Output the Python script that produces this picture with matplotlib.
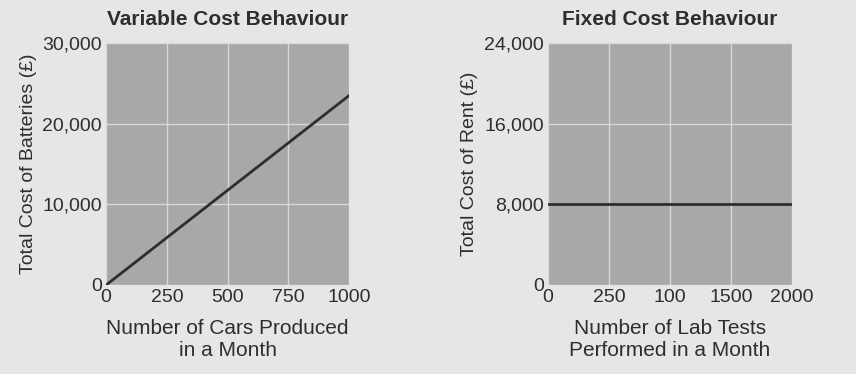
import matplotlib.pyplot as plt

# Данные для левого графика (переменные затраты)
cars = [0, 1000]
battery_cost = [0, 23500]
var_xticks = [0, 250, 500, 750, 1000]
var_yticks = [0, 10000, 20000, 30000]

# Данные для правого графика (постоянные затраты)
tests = [0, 2000]
rent_cost = [8000, 8000]
fix_xticks = [0, 500, 1000, 1500, 2000]
fix_xlabels = ['0', '250', '100', '1500', '2000']  # как в оригинале
fix_yticks = [0, 8000, 16000, 24000]

paper = '#e6e6e6'
face = '#a8a8a8'
ink = '#2e2e2e'

plt.rcParams['font.family'] = ['Liberation Sans', 'DejaVu Sans']

fig = plt.figure(figsize=(8.56, 3.74), dpi=100, facecolor=paper)
ax1 = fig.add_axes([0.124, 0.238, 0.284, 0.647])
ax2 = fig.add_axes([0.640, 0.238, 0.285, 0.647])


def style(ax, xticks, yticks, xlabels=None):
    ax.set_facecolor(face)
    for s in ax.spines.values():
        s.set_visible(False)
    ax.set_xticks(xticks)
    ax.set_yticks(yticks)
    if xlabels is not None:
        ax.set_xticklabels(xlabels)
    ax.set_yticklabels([f'{v:,}' for v in yticks])
    ax.set_xlim(xticks[0], xticks[-1])
    ax.set_ylim(yticks[0], yticks[-1])
    ax.grid(True, color='#d8d8d8', linewidth=1)
    ax.set_axisbelow(True)
    ax.tick_params(length=0, labelsize=14, colors=ink, pad=3)


# Левый график
style(ax1, var_xticks, var_yticks)
ax1.plot(cars, battery_cost, color=ink, linewidth=2)
ax1.set_title('Variable Cost Behaviour', fontsize=15, fontweight='bold', color=ink, pad=13)
ax1.set_xlabel('Number of Cars Produced\nin a Month', fontsize=15, color=ink,
               labelpad=9, linespacing=1.25)
ax1.set_ylabel('Total Cost of Batteries (£)', fontsize=14, color=ink, labelpad=4)

# Правый график
style(ax2, fix_xticks, fix_yticks, fix_xlabels)
ax2.plot(tests, rent_cost, color=ink, linewidth=2)
ax2.set_title('Fixed Cost Behaviour', fontsize=15, fontweight='bold', color=ink, pad=13)
ax2.set_xlabel('Number of Lab Tests\nPerformed in a Month', fontsize=15, color=ink,
               labelpad=9, linespacing=1.25)
ax2.set_ylabel('Total Cost of Rent (£)', fontsize=14, color=ink, labelpad=4)

plt.savefig('out.png', dpi=100, facecolor=paper)
